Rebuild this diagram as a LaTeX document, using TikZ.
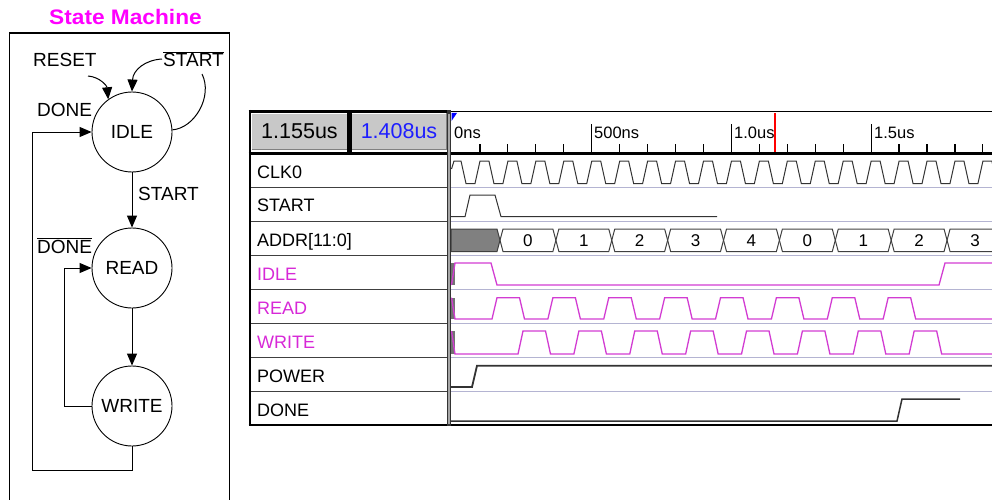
\documentclass[tikz,border=0pt]{standalone}
\usepackage{fontspec}
\setmainfont{Liberation Sans}
\newfontfamily\titlefam[FakeStretch=1.08]{Liberation Sans}
\usetikzlibrary{arrows.meta,calc}
\definecolor{mag}{RGB}{255,0,255}
\definecolor{wave}{RGB}{210,60,210}
\definecolor{magtxt}{RGB}{215,40,215}
\definecolor{lav}{RGB}{180,180,210}
\definecolor{btngray}{RGB}{200,200,200}
\definecolor{curblue}{RGB}{30,30,255}
\newcommand\fsm{\fontsize{19}{22}\selectfont}
\newcommand\fnm{\fontsize{18}{21}\selectfont}
\newcommand\frl{\fontsize{16.5}{19}\selectfont}
\newcommand\fbus{\fontsize{17}{20}\selectfont}
\newcommand\fbtn{\fontsize{21.5}{24}\selectfont}
\begin{document}
\begin{tikzpicture}[x=1pt,y=-1pt,
  state/.style={circle,draw,minimum size=80pt,inner sep=0pt,font=\fsm,line width=0.9pt},
  lbl/.style={inner sep=0pt,font=\fsm,anchor=base west},
  arr/.style={line width=1pt,-{Triangle[width=10pt,length=12pt]}},
  nm/.style={inner sep=0pt,font=\fnm,anchor=base west},
  btn/.style={rectangle,fill=btngray,minimum width=95pt,minimum height=36pt,inner sep=0pt,font=\fbtn},
  rl/.style={inner sep=0pt,font=\frl,anchor=base west},
  busnum/.style={inner sep=0pt,font=\fbus},
  trace/.style={line width=1pt,color=black!80},
  wtrace/.style={line width=1.3pt,color=wave},
  bus/.style={line width=1pt,draw=black!75},
  rowline/.style={line width=1.5pt,color=black!75},
  lavline/.style={line width=1.5pt,color=lav}]
\useasboundingbox (0,0) rectangle (992,500);

% ---------------- State machine ----------------
\node[font=\titlefam\bfseries\fontsize{21}{24}\selectfont,text=mag,anchor=base,inner sep=0pt] (title) at (125.5,25) {State Machine};
\draw[line width=1.2pt] (9.5,500) |- (229.5,33) -- (229.5,500);

\node[state] (idle) at (132,132) {IDLE};
\node[state] (read) at (132,268) {READ};
\node[state] (write) at (132,406) {WRITE};

\node[lbl] (reset) at (33,66.7) {RESET};
\node[lbl] (nstart) at (163,66.7) {$\overline{\mbox{START}}$};
\node[lbl] (done1) at (37,116.7) {DONE};
\node[lbl] (start) at (138,200) {START};
\node[lbl] (ndone) at (37,253) {$\overline{\mbox{DONE}}$};

\coordinate (rs) at (88,76);
\draw[arr] (rs) .. controls (100,77) and (107,86) .. (idle.126);
\coordinate (sb1) at (202,74);
\coordinate (sb2) at (162,59);
\draw[line width=1pt] (idle.3) .. controls (195,128) and (213,96) .. (sb1);
\draw[arr] (sb2) .. controls (145,60) and (133,70) .. (idle.north);

\draw[arr] (idle) -- (read);
\draw[arr] (read) -- (write);
\coordinate (lp) at (64,406);
\draw[arr] (write.west) -- (lp) |- (read.west);
\coordinate (bl) at (32,470);
\draw[arr] (write.south) |- (bl) |- (idle.west);

% ---------------- Waveform panel ----------------
% row lines
\foreach \i in {1,...,7} {
  \draw[rowline] (250,{153.5+34*\i}) -- (447,{153.5+34*\i});
  \draw[lavline] (451,{153.5+34*\i}) -- (992,{153.5+34*\i});
}
% frame
\draw[line width=3pt] (248.5,111.5) -- (448,111.5);
\draw[line width=1pt] (448,112) -- (992,112);
\draw[line width=3pt] (248.5,153.3) -- (992,153.3);
\draw[line width=2.5pt] (250,110) -- (250,426);
\draw[line width=2pt] (248.5,425) -- (992,425);

% buttons
\node[btn] (b1) at (299.5,131.5) {1.155us};
\node[btn,text=curblue,minimum width=94pt] (b2) at (399,131.5) {1.408us};
\draw[white,line width=1pt] (b1.south west) |- (b1.north east);
\draw[black!50,line width=1pt] (b1.south west) -| (b1.north east);
\draw[white,line width=1pt] (b2.south west) |- (b2.north east);
\draw[black!50,line width=1pt] (b2.south west) -| (b2.north east);
\draw[line width=4.5pt] (349.5,111) -- (349.5,153);

% separator
\draw[line width=4.5pt,color=black!80] (449,110) -- (449,426);
\draw[line width=1.6pt,color=black!35] (449,114) -- (449,424);

% names
\node[nm] (nclk) at (257,178.5) {CLK0};
\node[nm] (nst) at (257,211.5) {START};
\node[nm] (nad) at (257,246) {ADDR[11:0]};
\node[nm,text=magtxt] (nid) at (257,280.5) {IDLE};
\node[nm,text=magtxt] (nrd) at (257,314.5) {READ};
\node[nm,text=magtxt] (nwr) at (257,348.5) {WRITE};
\node[nm] (npw) at (257,382) {POWER};
\node[nm] (ndn) at (257,416.5) {DONE};

% ruler
\foreach \k in {1,2,3,4,6,7,8,9,11,12,13,14,16,17,18,19}
  \draw[line width=1.2pt] ({452+27.94*\k},144) -- ({452+27.94*\k},152);
\foreach \k in {5,10,15}
  \draw[line width=1.2pt] ({452+27.94*\k},124) -- ({452+27.94*\k},152);
\node[rl] (t0) at (454,139) {0ns};
\node[rl] (t500) at (594,139) {500ns};
\node[rl] (t1000) at (734,139) {1.0us};
\node[rl] (t1500) at (874,139) {1.5us};
\fill[blue] (451.5,113) -- (457,113) -- (451.5,121) -- cycle;
\draw[red,line width=1.5pt] (775,113) -- (775,151.5);

\begin{scope}
\clip (451,100) rectangle (992,430);
% CLK0
\draw[trace] (451.5,169) -- (454,161)
  \foreach \k in {0,...,19} { -- ({452+27.94*\k+9},161) -- ({452+27.94*\k+14},183.5) -- ({452+27.94*\k+23},183.5) -- ({452+27.94*\k+28},161) };
% START
\draw[trace] (451,216.7) -- (465,216.7) -- (470,195) -- (495,195) -- (501,216.7) -- (717,216.7);
% ADDR
\filldraw[fill=black!50,draw=black!75,line width=1pt] (451,229) -- (497,229) -- (500,240.25) -- (497,251.5) -- (451,251.5) -- cycle;
\foreach \k/\v in {0/0,1/1,2/2,3/3,4/4,5/0,6/1,7/2,8/3} {
  \pgfmathsetmacro\a{497+55.88*\k}
  \pgfmathsetmacro\b{497+55.88*(\k+1)}
  \draw[bus] (\a+3,240.25) -- (\a+6,229) -- (\b,229) -- (\b+3,240.25) -- (\b,251.5) -- (\a+6,251.5) -- cycle;
  \node[busnum] (v\k) at ({(\a+6+\b)/2},240.5) {\v};
}
% IDLE
\fill[black!55] (451,263) rectangle (454.5,285);
\draw[wtrace] (451.5,285) -- (455,263) -- (491,263) -- (497,285) -- (939,285) -- (945,263) -- (1000,263);
% READ
\fill[black!55] (451,297.7) rectangle (454.5,319);
\draw[wtrace] (451.5,297.7) -- (455,319)
  \foreach \k in {0,...,7} { -- ({492+55.88*\k},319) -- ({497+55.88*\k},297.7) -- ({519.5+55.88*\k},297.7) -- ({524.5+55.88*\k},319) } -- (1000,319);
% WRITE
\fill[black!55] (451,331) rectangle (454.5,354);
\draw[wtrace] (451.5,331) -- (455,354)
  \foreach \k in {0,...,7} { -- ({518+55.88*\k},354) -- ({523+55.88*\k},331) -- ({545.5+55.88*\k},331) -- ({550.5+55.88*\k},354) } -- (1000,354);
% POWER
\draw[trace,line width=1.8pt] (451,387) -- (472,387) -- (477,365.7) -- (1000,365.7);
% DONE
\draw[trace,line width=1.5pt] (451,421) -- (897,421) -- (902,399) -- (960,399);
\end{scope}
\end{tikzpicture}
\end{document}
